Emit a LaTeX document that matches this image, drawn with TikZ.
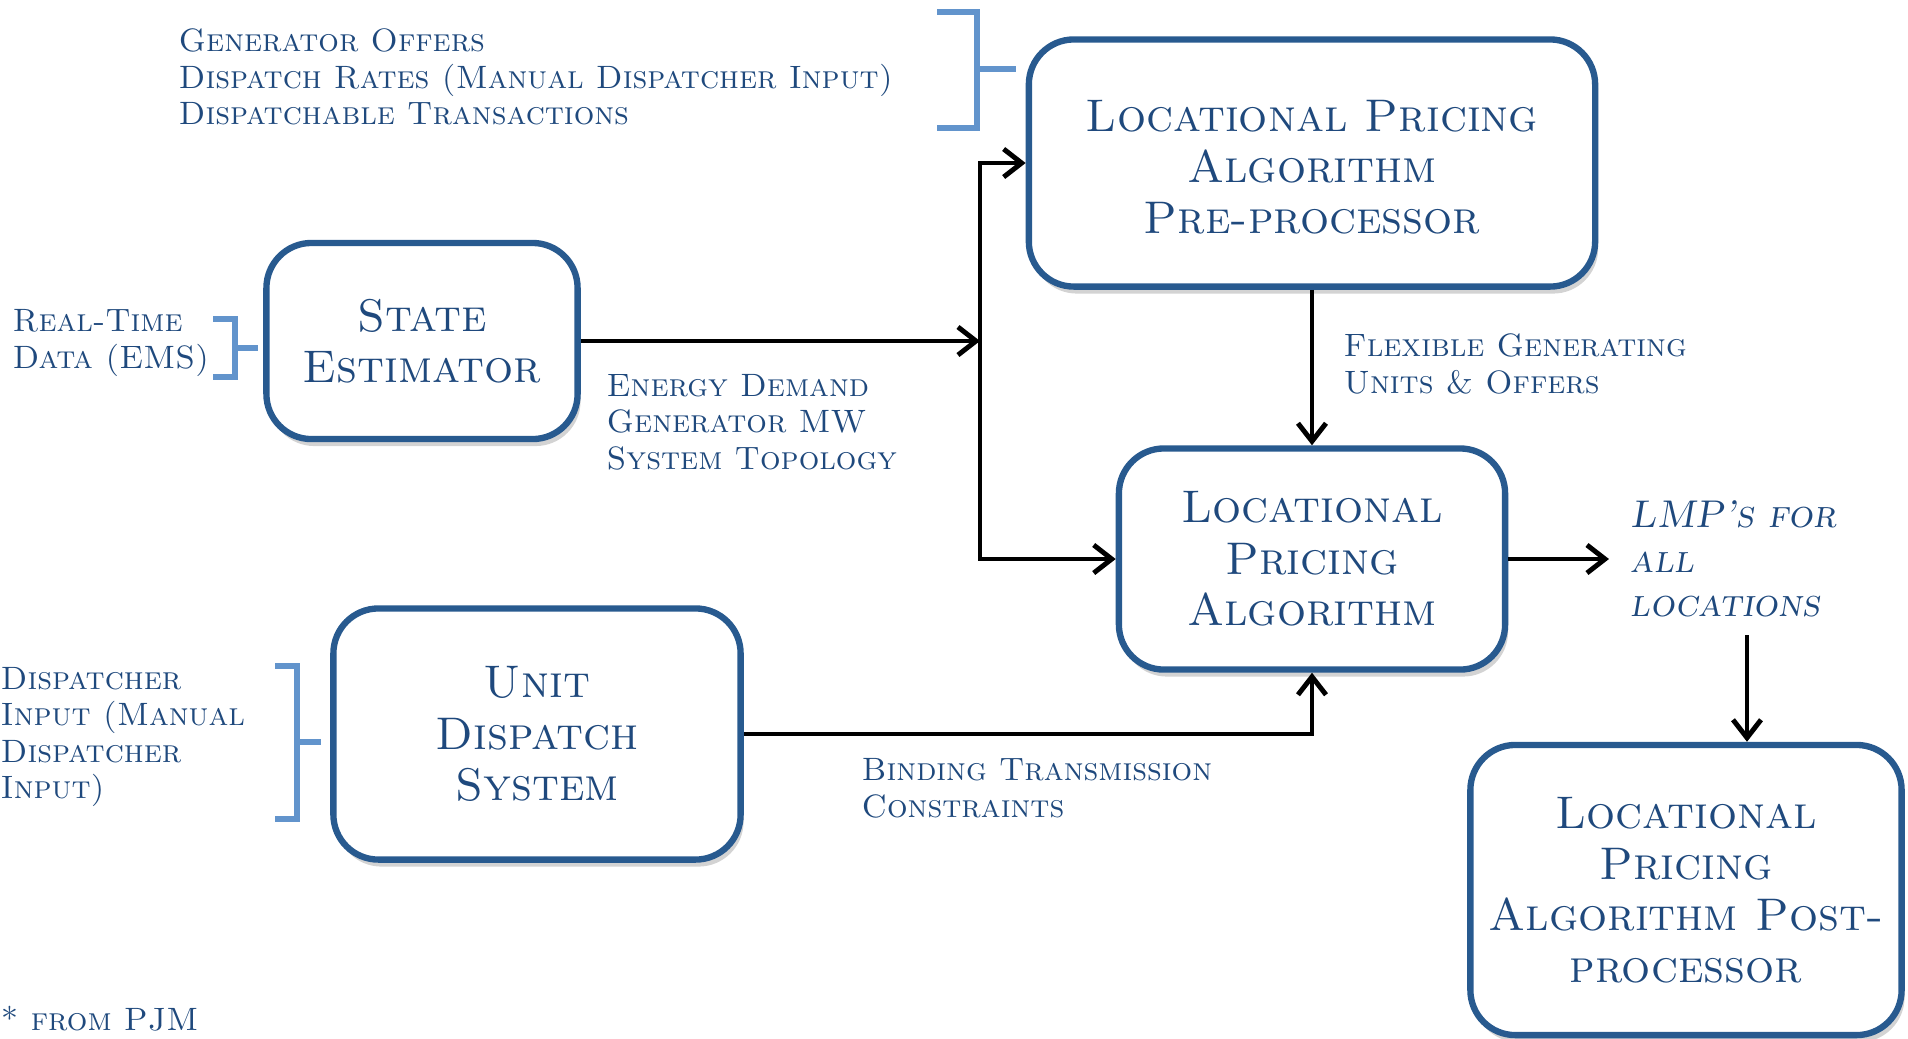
\documentclass[tikz,border=0pt]{standalone}
\usetikzlibrary{arrows.meta,shadows}
\definecolor{boxblue}{RGB}{40,90,143}
\definecolor{labelblue}{RGB}{31,73,125}
\definecolor{bracketblue}{RGB}{98,148,204}

\begin{document}
\begin{tikzpicture}[x=0.01cm,y=-0.01cm,
    stage/.style={draw=boxblue,line width=1.8pt,fill=white,rounded corners=0.45cm,
      align=center,text=labelblue,font=\fontsize{13}{14.6}\selectfont\scshape,
      drop shadow={opacity=0.35,shadow xshift=0.03cm,shadow yshift=-0.07cm}},
    note/.style={anchor=west,align=left,inner sep=0pt,text=labelblue,
      font=\fontsize{9.2}{10.4}\selectfont\scshape},
    brace/.style={draw=bracketblue,line width=1.5pt},
    flow/.style={-{Straight Barb[length=0.18cm,width=0.28cm,line width=1.4pt]},line width=1.35pt}]
    \useasboundingbox (0,0) rectangle (1908,1038);
    \node[stage,minimum width=5.66cm,minimum height=2.47cm] (pre) at (1312,163)
      {\\[-0.5ex]Locational Pricing\\Algorithm\\Pre-processor};
    \node[stage,minimum width=3.11cm,minimum height=1.96cm] (se) at (422,341)
      {State\\Estimator};
    \node[stage,minimum width=3.86cm,minimum height=2.21cm] (lpa) at (1312,559)
      {Locational\\Pricing\\Algorithm};
    \node[stage,minimum width=4.07cm,minimum height=2.51cm] (uds) at (537,734)
      {Unit\\Dispatch\\System};
    \node[stage,minimum width=4.31cm,minimum height=2.9cm] (post) at (1686,890)
      {Locational\\Pricing\\Algorithm Post-\\processor};
    \node[note] (offers) at (178,77)
      {Generator Offers\\Dispatch Rates (Manual Dispatcher Input)\\Dispatchable Transactions};
    \node[note] (realtime) at (12,343) {Real-Time\\Data (EMS)};
    \node[note] (topo) at (606,422) {Energy Demand\\Generator MW\\System Topology};
    \node[note] (flex) at (1343,364) {Flexible Generating\\Units \& Offers};
    \node[note] (binding) at (861,788) {Binding Transmission\\Constraints};
    \node[note] (dispin) at (0,737) {Dispatcher\\Input (Manual\\Dispatcher\\Input)};
    \node[note,anchor=base west] (pjm) at (0,1030) {* from PJM};
    \node[note,font=\fontsize{11}{12.7}\selectfont\scshape\itshape] (lmp) at (1630,559)
      {LMP’s for\\all\\locations};
    \draw[brace] (937,12) -- (977,12) -- (977,128) -- (937,128) (977,69) -- (1016,69);
    \draw[brace] (213,319) -- (235,319) -- (235,377) -- (213,377) (235,348) -- (258,348);
    \draw[brace] (275,666) -- (297,666) -- (297,819) -- (275,819) (297,742) -- (321,742);
    \coordinate (split) at (980,341);
    \coordinate (lmpout) at (1747,635);
    \draw[flow] (se) -- (split);
    \draw[flow] (split) |- (pre.west);
    \draw[flow] (split) |- (lpa.west);
    \draw[flow] (pre) -- (lpa);
    \draw[flow,shorten >=0.21cm] (lpa) -- (lmp);
    \draw[flow] (lmpout) -- (lmpout |- post.north);
    \draw[flow] (uds) -| (lpa);
  \end{tikzpicture}
\end{document}
